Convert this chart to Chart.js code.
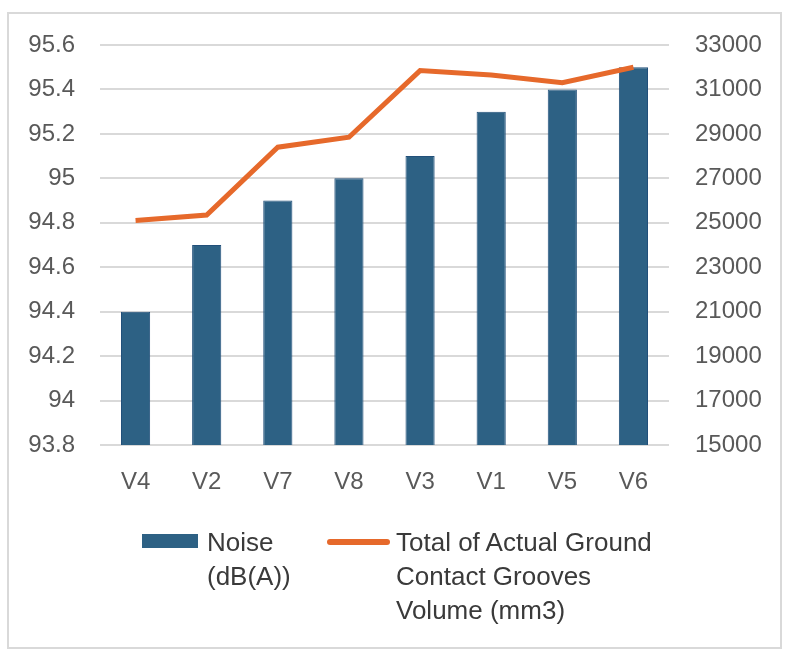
<!DOCTYPE html>
<html>
<head>
<meta charset="utf-8">
<script src="https://cdn.jsdelivr.net/npm/chart.js@4.4.1/dist/chart.umd.min.js"></script>
<style>
  body { margin: 0; background: #fff; font-family: "Liberation Sans", Arial, sans-serif; }
  #frame { position: absolute; left: 7px; top: 12px; width: 775px; height: 637px; border: 2px solid #d9d9d9; box-sizing: border-box; }
  #Chart { position: absolute; left: 0; top: 0; }
  .swatch { position: absolute; }
  .legtext { position: absolute; font-size: 26px; line-height: 34px; color: #3a3a3a; white-space: nowrap; }
</style>
</head>
<body>
<div id="frame"></div>
<canvas id="Chart" width="793" height="660"></canvas>
<div class="swatch" style="left:142px;top:534px;width:56px;height:14px;background:#2d6184;"></div>
<div class="legtext" id="leg1" style="left:207px;top:525px;"></div>
<div class="swatch" style="left:327px;top:539px;width:63px;height:6px;border-radius:3px;background:#e6692b;"></div>
<div class="legtext" id="leg2" style="left:396px;top:525px;"></div>
<script>
const categories = ["V4", "V2", "V7", "V8", "V3", "V1", "V5", "V6"];
const noise = [94.4, 94.7, 94.9, 95.0, 95.1, 95.3, 95.4, 95.5];
const grooveVolume = [25100, 25350, 28400, 28850, 31850, 31650, 31300, 32000];
const noiseLabel = ["Noise", "(dB(A))"];
const volumeLabel = ["Total of Actual Ground", "Contact Grooves", "Volume (mm3)"];
const leftTicks = { min: 93.8, max: 95.6, step: 0.2 };
const rightTicks = { min: 15000, max: 33000, step: 2000 };

document.getElementById("leg1").innerHTML = noiseLabel.join("<br>");
document.getElementById("leg2").innerHTML = volumeLabel.join("<br>");

const tickFont = { family: "'Liberation Sans', Arial, sans-serif", size: 24 };
const ctx = document.getElementById("Chart");

new Chart(ctx, {
  type: "bar",
  data: {
    labels: categories,
    datasets: [
      {
        type: "line",
        label: volumeLabel.join(" "),
        data: grooveVolume,
        yAxisID: "y1",
        borderColor: "#e6692b",
        borderWidth: 5,
        pointRadius: 0,
        tension: 0,
        order: 0,
      },
      {
        label: noiseLabel.join(" "),
        data: noise,
        yAxisID: "y",
        backgroundColor: "#2d6184",
        borderColor: "#22507a",
        borderWidth: 1,
        barPercentage: 0.41,
        categoryPercentage: 1,
        order: 1,
      },
    ],
  },
  options: {
    responsive: false,
    animation: false,
    layout: { padding: { top: 45, left: 0, right: 0, bottom: 0 } },
    plugins: { legend: { display: false }, tooltip: { enabled: false } },
    scales: {
      x: {
        grid: { display: false },
        border: { display: false },
        ticks: { color: "#595959", font: tickFont, padding: 15 },
        afterFit(scale) { scale.height = 215; },
      },
      y: {
        position: "left",
        min: leftTicks.min,
        max: leftTicks.max,
        grid: { color: "#d9d9d9", lineWidth: 2, drawTicks: false },
        border: { display: false },
        ticks: {
          stepSize: leftTicks.step,
          color: "#595959",
          font: tickFont,
          padding: 25,
          callback: (v) => String(Number(v.toFixed(1))),
        },
        afterFit(scale) { scale.width = 100; },
      },
      y1: {
        position: "right",
        min: rightTicks.min,
        max: rightTicks.max,
        grid: { display: false, drawTicks: false },
        border: { display: false },
        ticks: {
          stepSize: rightTicks.step,
          color: "#595959",
          font: tickFont,
          padding: 26,
          callback: (v) => String(v),
        },
        afterFit(scale) { scale.width = 124; },
      },
    },
  },
});
</script>
</body>
</html>
